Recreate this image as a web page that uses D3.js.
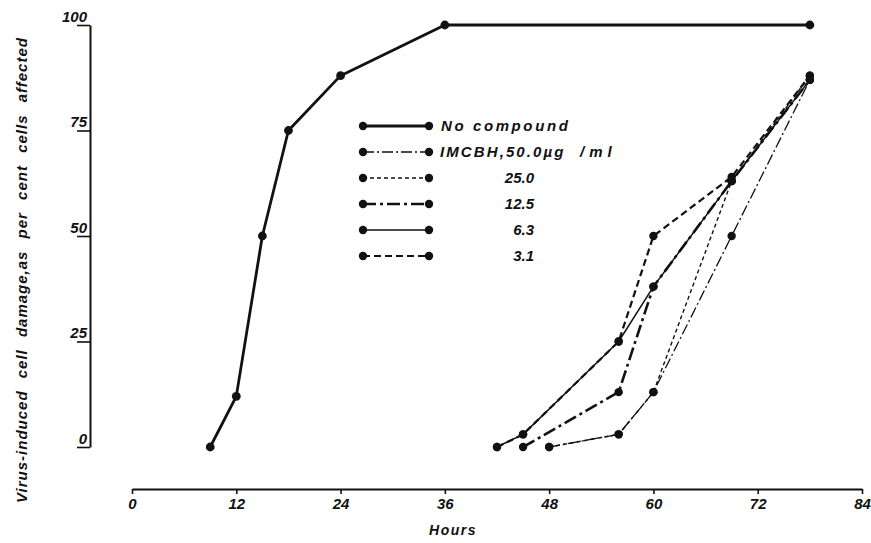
<!DOCTYPE html>
<html>
<head>
<meta charset="utf-8">
<script src="https://cdn.jsdelivr.net/npm/d3@7"></script>
<style>
  html, body { margin: 0; padding: 0; background: #fff; }
  svg { display: block; }
  text { font-family: "Liberation Sans", Arial, sans-serif; font-style: italic; font-weight: bold; fill: #111; }
</style>
</head>
<body>
<svg id="chart" width="871" height="543"></svg>
<script>
// ---- Data ----
const xTicks = [0, 12, 24, 36, 48, 60, 72, 84];
const yTicks = [0, 25, 50, 75, 100];

const seriesNames = ["No compound", "IMCBH,50.0µg", "25.0", "12.5", "6.3", "3.1"];
const unitLabel = "/ml";

const noCompoundHours = [9, 12, 15, 18, 24, 36, 78];
const noCompoundValues = [0, 12, 50, 75, 88, 100, 100];

const c50Hours = [48, 56, 60, 69, 78];
const c50Values = [0, 3, 13, 50, 87];

const c25Hours = [48, 56, 60, 69, 78];
const c25Values = [0, 3, 13, 63, 88];

const c12Hours = [45, 56, 60, 69, 78];
const c12Values = [0, 13, 38, 63, 87];

const c6Hours = [42, 45, 56, 60, 69, 78];
const c6Values = [0, 3, 25, 38, 63, 87];

const c3Hours = [42, 45, 56, 60, 69, 78];
const c3Values = [0, 3, 25, 50, 64, 88];

// ---- Styles ----
const styles = [
  { width: 2.8, dash: null, r: 4.4 },
  { width: 1.3, dash: "11,3,2,3", r: 4.2 },
  { width: 1.4, dash: "4,3", r: 4.2 },
  { width: 2.6, dash: "13,4,3,4", r: 4.2 },
  { width: 1.5, dash: null, r: 4.2 },
  { width: 2.2, dash: "7,4", r: 4.2 }
];

const seriesData = [
  [noCompoundHours, noCompoundValues],
  [c50Hours, c50Values],
  [c25Hours, c25Values],
  [c12Hours, c12Values],
  [c6Hours, c6Values],
  [c3Hours, c3Values]
].map(([h, v]) => h.map((x, i) => ({ x, y: v[i] })));

const svg = d3.select("#chart");
const x = d3.scaleLinear().domain([0, 84]).range([132, 862]);
const y = d3.scaleLinear().domain([0, 100]).range([447, 25]);

// ---- X axis ----
const xAxisY = 489;
const xAxis = d3.axisBottom(x).tickValues(xTicks).tickSize(5).tickSizeOuter(0).tickPadding(4);
const gx = svg.append("g").attr("transform", `translate(0,${xAxisY})`).call(xAxis);
gx.select(".domain").attr("stroke", "#111").attr("stroke-width", 2);
gx.selectAll(".tick line").attr("stroke", "#111").attr("stroke-width", 1.6);
gx.selectAll(".tick text").attr("font-size", 15).attr("font-family", "Liberation Sans, Arial, sans-serif")
  .attr("font-style", "italic").attr("font-weight", "bold").attr("fill", "#111");

// ---- Y axis ----
const yAxisX = 90;
const yAxis = d3.axisLeft(y).tickValues(yTicks).tickSize(13).tickSizeOuter(0).tickPadding(0);
const gy = svg.append("g").attr("transform", `translate(${yAxisX},0)`).call(yAxis);
gy.select(".domain").attr("stroke", "#111").attr("stroke-width", 2);
gy.selectAll(".tick line").attr("stroke", "#111").attr("stroke-width", 1.6);
gy.selectAll(".tick text").attr("font-size", 15).attr("font-family", "Liberation Sans, Arial, sans-serif")
  .attr("font-style", "italic").attr("font-weight", "bold").attr("fill", "#111")
  .attr("x", -3).attr("dy", "-0.25em");

// ---- Titles ----
svg.append("text")
  .attr("x", 453).attr("y", 535)
  .attr("text-anchor", "middle")
  .attr("font-size", 14).attr("letter-spacing", 1.5)
  .text("Hours");

svg.append("text")
  .attr("transform", "translate(27,270) rotate(-90)")
  .attr("text-anchor", "middle")
  .attr("font-size", 15).attr("letter-spacing", 1).attr("word-spacing", 7)
  .text("Virus-induced cell damage,as per cent cells affected");

// ---- Lines ----
const line = d3.line().x(d => x(d.x)).y(d => y(d.y));
const gSeries = svg.append("g");
seriesData.forEach((pts, i) => {
  const st = styles[i];
  gSeries.append("path")
    .attr("d", line(pts))
    .attr("fill", "none")
    .attr("stroke", "#111")
    .attr("stroke-width", st.width)
    .attr("stroke-dasharray", st.dash)
    .attr("stroke-linejoin", "round");
  gSeries.selectAll(null).data(pts).enter().append("circle")
    .attr("cx", d => x(d.x)).attr("cy", d => y(d.y))
    .attr("r", st.r).attr("fill", "#111");
});

// ---- Legend ----
const legX1 = 363, legX2 = 429, legY0 = 126, legDy = 26;
seriesNames.forEach((name, i) => {
  const st = styles[i];
  const yy = legY0 + i * legDy;
  svg.append("line").attr("x1", legX1).attr("x2", legX2).attr("y1", yy).attr("y2", yy)
    .attr("stroke", "#111").attr("stroke-width", st.width).attr("stroke-dasharray", st.dash);
  svg.append("circle").attr("cx", legX1).attr("cy", yy).attr("r", 4.2).attr("fill", "#111");
  svg.append("circle").attr("cx", legX2).attr("cy", yy).attr("r", 4.2).attr("fill", "#111");
  const t = svg.append("text").attr("y", yy + 5).attr("font-size", 15);
  if (i === 0) {
    t.attr("x", 441).attr("letter-spacing", 2.6).text(name);
  } else if (i === 1) {
    t.attr("x", 440).attr("letter-spacing", 2.1).text(name);
    t.append("tspan").attr("x", 580).attr("letter-spacing", 5).text(unitLabel);
  } else {
    t.attr("x", 534).attr("text-anchor", "end").text(name);
  }
});
</script>
</body>
</html>
